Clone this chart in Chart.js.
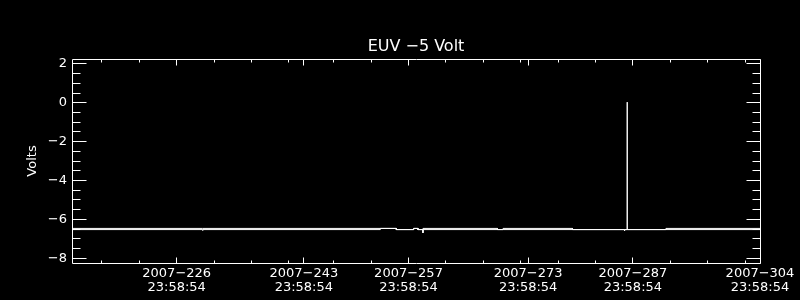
<!DOCTYPE html>
<html>
<head>
<meta charset="utf-8">
<script src="https://cdn.jsdelivr.net/npm/chart.js@4"></script>
<style>
  html, body { margin: 0; padding: 0; background: #000; }
  canvas { display: block; }
</style>
</head>
<body>
<canvas id="c" width="800" height="300"></canvas>
<script>
// ---- data (day of year 2007, fractional) ----
const H = -6.47, L = -6.53;
const days =     [213.0, 230.47, 230.48, 230.49, 254.23, 254.23, 256.37, 256.37, 258.69, 258.69, 259.26, 259.26, 259.92, 259.93, 259.94, 269.89, 269.89, 270.64, 270.64, 279.93, 279.93, 286.88, 286.89, 286.90, 287.23, 287.24, 287.25, 292.42, 292.42, 304.9992];
const voltsMax = [H,     H,      H,      H,      H,      H,      H,      L,      L,      H,      H,      L,      L,      H,      H,      H,      L,      L,      H,      H,      L,      L,      L,      L,      L,      0.03,   L,      L,      H,      H];
const voltsMin = [L,     L,      -6.58,  L,      L,      H,      H,      L,      L,      H,      H,      L,      L,      -6.70,  L,      L,      L,      L,      L,      L,      L,      L,      -6.60,  L,      L,      L,      L,      L,      L,      L];

const xMajorDays = [226.9992, 243.9992, 257.9992, 273.9992, 287.9992, 304.9992];
const xTickDates = ['2007\u2212226', '2007\u2212243', '2007\u2212257', '2007\u2212273', '2007\u2212287', '2007\u2212304'];
const xTickTime = '23:58:54';
const xMinorDays = [217, 222, 227, 232, 237, 242, 248, 253, 258, 263, 268, 273, 278, 283, 288, 293, 298, 303];
const yMajor = [-8, -6, -4, -2, 0, 2];
const yMinorStep = 0.5;

const titleText = 'EUV \u22125 Volt';
const yTitle = 'Volts';

Chart.defaults.font.family = 'DejaVu Sans';
Chart.defaults.color = '#fff';

const boxTicks = {
  id: 'boxTicks',
  afterDatasetsDraw(chart) {
    const { ctx, chartArea: a, scales: { x, y } } = chart;
    ctx.save();
    ctx.strokeStyle = '#fff';
    ctx.lineWidth = 1;
    const Lx = a.left + 0.5, Rx = a.right + 0.5, T = a.top + 0.5, B = a.bottom + 0.5;
    ctx.beginPath();
    ctx.rect(Lx, T, Rx - Lx, B - T);
    const xt = (v, len) => {
      const p = Math.floor(x.getPixelForValue(v)) + 0.5;
      ctx.moveTo(p, B); ctx.lineTo(p, B - len);
      ctx.moveTo(p, T); ctx.lineTo(p, T + len);
    };
    const yt = (v, len) => {
      const p = Math.floor(y.getPixelForValue(v)) + 0.5;
      ctx.moveTo(Lx, p); ctx.lineTo(Lx + len, p);
      ctx.moveTo(Rx, p); ctx.lineTo(Rx - len, p);
    };
    xMajorDays.forEach(v => xt(v, 6));
    xMinorDays.forEach(v => xt(v, 3));
    yMajor.forEach(v => yt(v, 14));
    for (let i = 0; i < yMajor.length - 1; i++) {
      for (let v = yMajor[i] + yMinorStep; v < yMajor[i + 1] - 1e-9; v += yMinorStep) yt(v, 8);
    }
    ctx.stroke();
    ctx.restore();
  }
};

new Chart(document.getElementById('c'), {
  type: 'line',
  data: {
    datasets: [
      { label: 'max', data: days.map((d, i) => ({ x: d, y: voltsMax[i] })), borderColor: '#fff', borderWidth: 1, pointRadius: 0, tension: 0 },
      { label: 'min', data: days.map((d, i) => ({ x: d, y: voltsMin[i] })), borderColor: '#fff', borderWidth: 1, pointRadius: 0, tension: 0 }
    ]
  },
  options: {
    responsive: false,
    devicePixelRatio: 1,
    animation: false,
    events: [],
    layout: { padding: { left: 0, right: 40, top: 0, bottom: 0 } },
    plugins: {
      legend: { display: false },
      tooltip: { enabled: false },
      title: { display: false }
    },
    scales: {
      x: {
        type: 'linear', min: 213.0, max: 304.9992,
        grid: { display: false, drawTicks: false }, border: { display: false },
        afterBuildTicks: s => { s.ticks = xMajorDays.map(v => ({ value: v })); },
        afterFit: s => { s.height = 37; },
        ticks: {
          color: '#fff', autoSkip: false, maxRotation: 0, minRotation: 0, padding: 4,
          font: { size: 13, lineHeight: 14 / 13 },
          callback: (v, i) => [xTickDates[i], xTickTime]
        }
      },
      xTop: {
        type: 'linear', position: 'top', min: 0, max: 1,
        grid: { display: false, drawTicks: false }, border: { display: false },
        ticks: { display: false },
        afterFit: s => { s.height = 59; },
        title: {
          display: true, text: titleText, color: '#fff',
          font: { size: 16, weight: 'normal', lineHeight: 1 },
          padding: { top: 39, bottom: 4 }
        }
      },
      y: {
        type: 'linear', min: -8.25, max: 2.25,
        grid: { display: false, drawTicks: false }, border: { display: false },
        afterBuildTicks: s => { s.ticks = yMajor.map(v => ({ value: v })); },
        afterFit: s => { s.width = 72; },
        title: { display: true, text: yTitle, color: '#fff', font: { size: 13, lineHeight: 16 / 13 }, padding: { top: 25, bottom: 0 } },
        ticks: {
          color: '#fff', padding: 5, font: { size: 13 },
          callback: v => (v < 0 ? '\u2212' + Math.abs(v) : String(v))
        }
      }
    }
  },
  plugins: [boxTicks]
});
</script>
</body>
</html>
